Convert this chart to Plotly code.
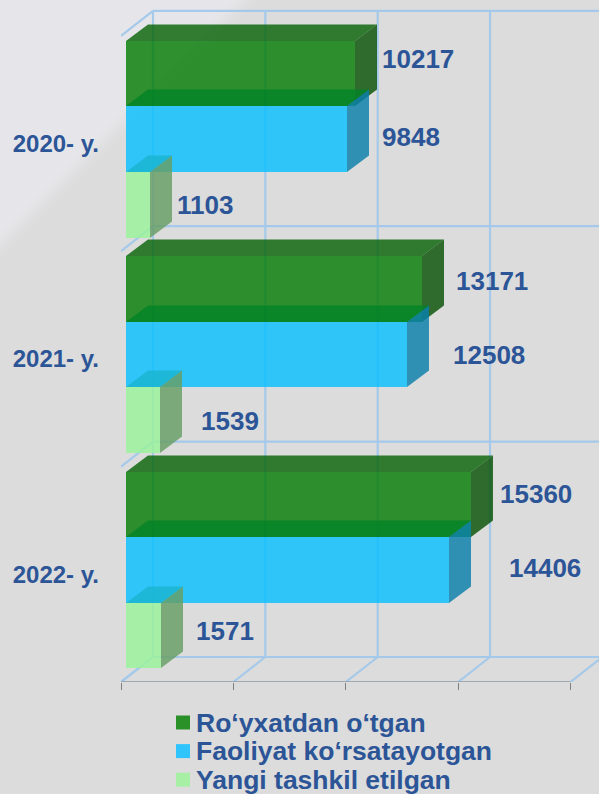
import plotly.graph_objects as go

# ---- data ----
YEARS = ["2020- y.", "2021- y.", "2022- y."]
SERIES = ["Ro‘yxatdan o‘tgan", "Faoliyat ko‘rsatayotgan", "Yangi tashkil etilgan"]
REGISTERED = [10217, 13171, 15360]
ACTIVE = [9848, 12508, 14406]
NEW = [1103, 1539, 1571]
X_TICKS = [0, 5000, 10000, 15000, 20000]

# ---- layout constants ----
W, H = 599, 794
ML, MB = 121, 112
PX_PER_UNIT = 0.02247
PX_PER_BAND = 215.4
PW, PH = W - ML, H - MB
X_MAX = PW / PX_PER_UNIT
Y_MAX = PH / PX_PER_BAND
dx = lambda px: px / PX_PER_UNIT
dy = lambda px: px / PX_PER_BAND
GX, GY = dx(32), dy(25)          # full depth of the box
BASE, LIFT = dx(4.6), dy(4.3)    # bars' front offset in depth
BX, BY = dx(22), dy(16.5)        # bars' depth
BAR_H = dy(65.6)
POS = [2.5, 1.5, 0.5]
SLOT = [1, 0, -1]

# bars are snapped to whole pixels by the library: make the faces follow
snap_x = lambda v: round(v * PX_PER_UNIT) / PX_PER_UNIT
snap_y = lambda v: (PH - round(PH - v * PX_PER_BAND)) / PX_PER_BAND

TEXT = "#2c5597"
FONT = "Liberation Sans"
STYLE = [  # front, top, side
    ("rgba(5,125,5,.82)", "rgba(9,100,9,.82)", "rgba(7,82,5,.82)"),
    ("rgba(8,191,255,.82)", "rgba(2,130,39,.82)", "rgba(8,127,171,.82)"),
    ("rgba(154,243,154,.82)", "rgba(26,181,208,.82)", "rgba(103,157,100,.82)"),
]
LEGEND_COLORS = ["#2a9129", "#2fc4fb", "#a8efa6"]
VALUES = [REGISTERED, ACTIVE, NEW]
# label offsets from the bar's front end / centre, in pixels
LABEL_SHIFT_X = [[63, 64, 55], [70, 82, 70], [65, 96, 64]]
LABEL_SHIFT_Y = [[15, 2, 0], [8, 0, -1], [10, 2, 5]]

fig = go.Figure()

# front faces (native bars)
for s, vals in enumerate(VALUES):
    fig.add_trace(go.Bar(
        orientation="h", x=vals, y=[p + SLOT[s] * BAR_H + LIFT for p in POS],
        base=BASE, width=BAR_H, name=SERIES[s], showlegend=False,
        marker=dict(color=STYLE[s][0], line=dict(width=0)),
    ))

# top and side faces, derived from the values
def face(xs, ys, color):
    fig.add_trace(go.Scatter(x=xs, y=ys, mode="lines", fill="toself", fillcolor=color,
                             line=dict(width=0), showlegend=False, hoverinfo="skip"))

for i in range(3):
    for s, vals in enumerate(VALUES):
        c = POS[i] + SLOT[s] * BAR_H + LIFT
        x0, end = snap_x(BASE), snap_x(BASE + vals[i])
        hi, lo = snap_y(c + BAR_H / 2), snap_y(c - BAR_H / 2)
        face([x0, end, end + BX, x0 + BX, x0], [hi, hi, hi + BY, hi + BY, hi], STYLE[s][1])
        face([end, end + BX, end + BX, end, end], [hi, hi + BY, lo + BY, lo, hi], STYLE[s][2])

# 3D box grid
GRID = dict(color="#a5c9ea", width=2.2)
shapes = []
def seg(x0, y0, x1, y1, line=GRID):
    shapes.append(dict(type="line", xref="x", yref="y", x0=x0, y0=y0, x1=x1, y1=y1, line=line, layer="below"))

for t in X_TICKS:
    seg(t + GX, GY, t + GX, 3 + GY)
    seg(t, 0, t + GX, GY)
for lv in [0, 1, 2, 3]:
    seg(GX, lv + GY, X_TICKS[-1] + GX, lv + GY)
    seg(0, lv, GX, lv + GY)
seg(0, 0, X_TICKS[-1], 0, dict(color="#8c98a6", width=1.6))

# background light wedge with a soft edge
px = lambda x: (x - ML) / PW
py = lambda y: (PH - y) / PH
for off, op in [(12, .2), (6, .3), (0, .4), (-6, .5), (-12, .7), (-60, .5)]:
    a = 245 + off
    shapes.insert(0, dict(type="path", xref="paper", yref="paper", layer="below",
        path=f"M {px(0)} {py(0)} L {px(a)} {py(0)} L {px(0)} {py(a)} Z",
        fillcolor="#e8e8eb", opacity=op, line=dict(width=0)))

# legend
ann = []
for s, name in enumerate(SERIES):
    yc = 722.5 + s * 28.6
    shapes.append(dict(type="rect", xref="paper", yref="paper", x0=px(176), x1=px(190),
                       y0=py(yc - 7), y1=py(yc + 7), fillcolor=LEGEND_COLORS[s], line=dict(width=0)))
    ann.append(dict(xref="paper", yref="paper", x=px(194), y=py(yc), text=f"<b>{name}</b>", showarrow=False,
                    xanchor="left", yanchor="middle", font=dict(family=FONT, size=26.5, color=TEXT)))

# value labels
for i in range(3):
    for s, vals in enumerate(VALUES):
        ann.append(dict(xref="x", yref="y", x=BASE + vals[i], y=POS[i] + SLOT[s] * BAR_H + LIFT,
                        text=f"<b>{vals[i]}</b>", showarrow=False, xanchor="center", yanchor="middle",
                        xshift=LABEL_SHIFT_X[i][s], yshift=LABEL_SHIFT_Y[i][s],
                        font=dict(family=FONT, size=26, color=TEXT)))

fig.update_layout(
    width=W, height=H, barmode="overlay", bargap=0,
    margin=dict(l=ML, r=0, t=0, b=MB, pad=0),
    paper_bgcolor="#dcdcdc", plot_bgcolor="rgba(0,0,0,0)", showlegend=False,
    shapes=shapes, annotations=ann,
    xaxis=dict(range=[0, X_MAX], tickvals=X_TICKS, showticklabels=False, ticks="outside", ticklen=7,
               tickcolor="#7f7f7f", tickwidth=1.3, showgrid=False, zeroline=False, showline=False),
    yaxis=dict(range=[0, Y_MAX], tickvals=POS, ticktext=[f"<b>{y}</b>" for y in YEARS], ticks="",
               ticklabelstandoff=21, showgrid=False, zeroline=False, showline=False,
               tickfont=dict(family=FONT, size=24, color=TEXT)),
)
fig.write_html("out.html", config=dict(displayModeBar=False),
               post_script="document.documentElement.style.background='#dcdcdc';document.body.style.margin='0';document.body.style.overflow='hidden';")
